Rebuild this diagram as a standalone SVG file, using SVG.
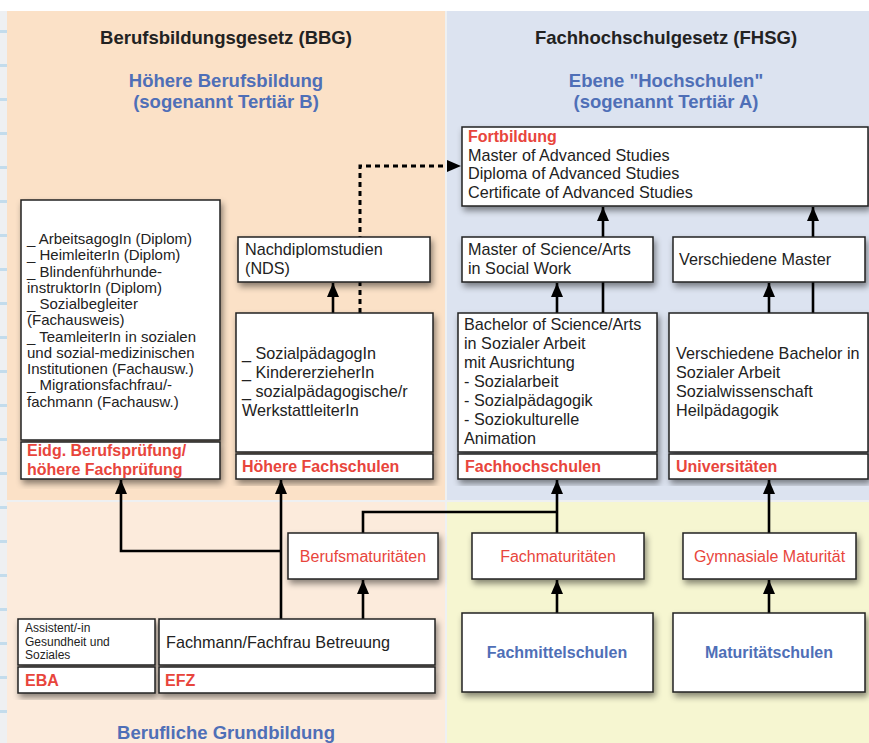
<svg xmlns="http://www.w3.org/2000/svg" width="869" height="743" viewBox="0 0 869 743">
<defs>
<style>
.t{font-family:"Liberation Sans",Arial,sans-serif;fill:#222}
.body{font-size:16.2px}
.lbl{font-size:16px;font-weight:bold;fill:#e8453c}
.red{font-size:16px;fill:#e8453c}
.title{font-size:18.5px;font-weight:bold;fill:#222}
.blue{font-size:18.5px;font-weight:bold;fill:#4f6fb7}
.bluebox{font-size:16px;font-weight:bold;fill:#4f6fb7}
.box{fill:#fff;stroke:#222;stroke-width:1.5;filter:url(#sh)}
.c{fill:none;stroke:#000;stroke-width:2.6;marker-end:url(#ah)}
.cn{fill:none;stroke:#000;stroke-width:2.6}
</style>
<filter id="sh" x="-10%" y="-10%" width="125%" height="135%">
<feDropShadow dx="2" dy="4" stdDeviation="3" flood-color="#000" flood-opacity="0.45"/>
</filter>
<marker id="ah" viewBox="0 0 14 12" refX="14" refY="6" markerWidth="14" markerHeight="12" markerUnits="userSpaceOnUse" orient="auto">
<path d="M0,0 L14,6 L0,12 z" fill="#000"/>
</marker>
</defs>

<g id="background">
<rect x="0" y="0" width="869" height="743" fill="#eef0f2"/>
<rect x="0" y="0" width="869" height="11" fill="#ffffff"/>
<g fill="#c3dcec">
<rect x="0" y="30" width="7" height="3"/><rect x="0" y="64" width="7" height="3"/><rect x="0" y="98" width="7" height="3"/>
<rect x="0" y="132" width="7" height="3"/><rect x="0" y="166" width="7" height="3"/><rect x="0" y="200" width="7" height="3"/>
<rect x="0" y="234" width="7" height="3"/><rect x="0" y="268" width="7" height="3"/><rect x="0" y="302" width="7" height="3"/>
<rect x="0" y="336" width="7" height="3"/><rect x="0" y="370" width="7" height="3"/><rect x="0" y="404" width="7" height="3"/>
<rect x="0" y="438" width="7" height="3"/><rect x="0" y="472" width="7" height="3"/><rect x="0" y="506" width="7" height="3"/>
<rect x="0" y="540" width="7" height="3"/><rect x="0" y="574" width="7" height="3"/><rect x="0" y="608" width="7" height="3"/>
<rect x="0" y="642" width="7" height="3"/><rect x="0" y="676" width="7" height="3"/><rect x="0" y="710" width="7" height="3"/>
</g>
<rect x="7" y="11" width="438" height="489" fill="#fbe1c7"/>
<rect x="447" y="11" width="422" height="489" fill="#dce3f0"/>
<rect x="7" y="502" width="438" height="241" fill="#fcebdc"/>
<rect x="447" y="502" width="422" height="241" fill="#f6f6d1"/>
</g>

<g id="titles" class="t">
<text class="title" x="226" y="44" text-anchor="middle">Berufsbildungsgesetz (BBG)</text>
<text class="blue" x="226" y="87" text-anchor="middle">Höhere Berufsbildung</text>
<text class="blue" x="226" y="108" text-anchor="middle">(sogenannt Tertiär B)</text>
<text class="title" x="666" y="44" text-anchor="middle">Fachhochschulgesetz (FHSG)</text>
<text class="blue" x="666" y="87" text-anchor="middle">Ebene "Hochschulen"</text>
<text class="blue" x="666" y="108" text-anchor="middle">(sogenannt Tertiär A)</text>
<text class="blue" x="226" y="739" text-anchor="middle">Berufliche Grundbildung</text>
</g>

<g id="connectors">
<path class="c" d="M333,313 V283"/>
<path d="M360,313 V166 H448" fill="none" stroke="#000" stroke-width="3" stroke-dasharray="5 4"/>
<path d="M447,160 L461,166 L447,172 z" fill="#000"/>
<path class="c" d="M557,313 V283"/>
<path class="c" d="M603,313 V207"/>
<path class="c" d="M769,313 V283"/>
<path class="c" d="M813,313 V207" stroke="#1c2330"/>
<path class="c" d="M281,619 V480"/>
<path class="c" d="M281,551 H121 V480"/>
<path class="c" d="M363,619 V580"/>
<path class="cn" d="M363,533 V512 H557"/>
<path class="c" d="M557,533 V480"/>
<path class="c" d="M557,613 V580"/>
<path class="c" d="M769,613 V580"/>
<path class="c" d="M769,533 V480"/>
</g>

<g id="fortbildung" class="t">
<rect class="box" x="462" y="127" width="406" height="79"/>
<text class="lbl" x="468" y="142">Fortbildung</text>
<text class="body" x="468" y="160.5">Master of Advanced Studies</text>
<text class="body" x="468" y="179">Diploma of Advanced Studies</text>
<text class="body" x="468" y="197.5">Certificate of Advanced Studies</text>
</g>

<g id="berufspruefung" class="t">
<rect class="box" x="21" y="200" width="199" height="240"/>
<rect class="box" x="21" y="442" width="199" height="37"/>
<g font-size="15px">
<text x="27" y="244">_ ArbeitsagogIn (Diplom)</text>
<text x="27" y="260.3">_ HeimleiterIn (Diplom)</text>
<text x="27" y="276.5">_ Blindenführhunde-</text>
<text x="27" y="292.8">instruktorIn (Diplom)</text>
<text x="27" y="309">_ Sozialbegleiter</text>
<text x="27" y="325.3">(Fachausweis)</text>
<text x="27" y="341.5">_ TeamleiterIn in sozialen</text>
<text x="27" y="357.8">und sozial-medizinischen</text>
<text x="27" y="374">Institutionen  (Fachausw.)</text>
<text x="27" y="390.3">_ Migrationsfachfrau/-</text>
<text x="27" y="406.5">fachmann (Fachausw.)</text>
</g>
<text class="lbl" x="27" y="455.5">Eidg. Berufsprüfung/</text>
<text class="lbl" x="27" y="474.5">höhere Fachprüfung</text>
</g>

<g id="nds" class="t">
<rect class="box" x="238" y="237" width="192" height="45"/>
<text class="body" x="245" y="254.5">Nachdiplomstudien</text>
<text class="body" x="245" y="273.5">(NDS)</text>
</g>

<g id="hoehere-fachschulen" class="t">
<rect class="box" x="236" y="313" width="197" height="139"/>
<rect class="box" x="236" y="454" width="197" height="25"/>
<text class="body" x="242" y="358.5">_ SozialpädagogIn</text>
<text class="body" x="242" y="377.5">_ KindererzieherIn</text>
<text class="body" x="242" y="396.5">_ sozialpädagogische/r</text>
<text class="body" x="242" y="415.5">WerkstattleiterIn</text>
<text class="lbl" x="242" y="471.5">Höhere Fachschulen</text>
</g>

<g id="master-sw" class="t">
<rect class="box" x="462" y="237" width="191" height="45"/>
<text class="body" x="468" y="254.5">Master of Science/Arts</text>
<text class="body" x="468" y="273.5">in Social Work</text>
</g>

<g id="verschiedene-master" class="t">
<rect class="box" x="673" y="237" width="192" height="45"/>
<text class="body" x="679" y="264.5">Verschiedene Master</text>
</g>

<g id="fachhochschulen" class="t">
<rect class="box" x="458" y="313" width="199" height="139"/>
<rect class="box" x="458" y="454" width="199" height="25"/>
<text class="body" x="464" y="329.5">Bachelor of Science/Arts</text>
<text class="body" x="464" y="348.5">in Sozialer Arbeit</text>
<text class="body" x="464" y="367.5">mit Ausrichtung</text>
<text class="body" x="464" y="386.5">- Sozialarbeit</text>
<text class="body" x="464" y="405.5">- Sozialpädagogik</text>
<text class="body" x="464" y="424.5">- Soziokulturelle</text>
<text class="body" x="464" y="443.5">Animation</text>
<text class="lbl" x="465" y="471.5">Fachhochschulen</text>
</g>

<g id="universitaeten" class="t">
<rect class="box" x="669" y="313" width="199" height="139"/>
<rect class="box" x="669" y="454" width="199" height="25"/>
<text class="body" x="676" y="358.5">Verschiedene Bachelor in</text>
<text class="body" x="676" y="377.5">Sozialer Arbeit</text>
<text class="body" x="676" y="396.5">Sozialwissenschaft</text>
<text class="body" x="676" y="415.5">Heilpädagogik</text>
<text class="lbl" x="676" y="471.5">Universitäten</text>
</g>

<g id="berufsmaturitaeten" class="t">
<rect class="box" x="288" y="533" width="150" height="46"/>
<text class="red" x="363" y="561.5" text-anchor="middle">Berufsmaturitäten</text>
</g>

<g id="fachmaturitaeten" class="t">
<rect class="box" x="472" y="533" width="172" height="46"/>
<text class="red" x="558" y="561.5" text-anchor="middle">Fachmaturitäten</text>
</g>

<g id="gymnasiale-maturitaet" class="t">
<rect class="box" x="683" y="533" width="173" height="46"/>
<text class="red" x="769.5" y="561.5" text-anchor="middle">Gymnasiale Maturität</text>
</g>

<g id="eba" class="t">
<rect class="box" x="18" y="619" width="137" height="46"/>
<rect class="box" x="18" y="667" width="137" height="26"/>
<g font-size="12px">
<text x="25" y="632">Assistent/-in</text>
<text x="25" y="646">Gesundheit und</text>
<text x="25" y="659">Soziales</text>
</g>
<text class="lbl" x="25" y="686">EBA</text>
</g>

<g id="efz" class="t">
<rect class="box" x="159" y="619" width="276" height="46"/>
<rect class="box" x="159" y="667" width="276" height="26"/>
<text class="body" x="166" y="647.5">Fachmann/Fachfrau Betreuung</text>
<text class="lbl" x="165" y="686">EFZ</text>
</g>

<g id="fachmittelschulen" class="t">
<rect class="box" x="462" y="613" width="191" height="79"/>
<text class="bluebox" x="557" y="657.5" text-anchor="middle">Fachmittelschulen</text>
</g>

<g id="maturitaetschulen" class="t">
<rect class="box" x="673" y="613" width="192" height="79"/>
<text class="bluebox" x="769" y="657.5" text-anchor="middle">Maturitätschulen</text>
</g>
</svg>
